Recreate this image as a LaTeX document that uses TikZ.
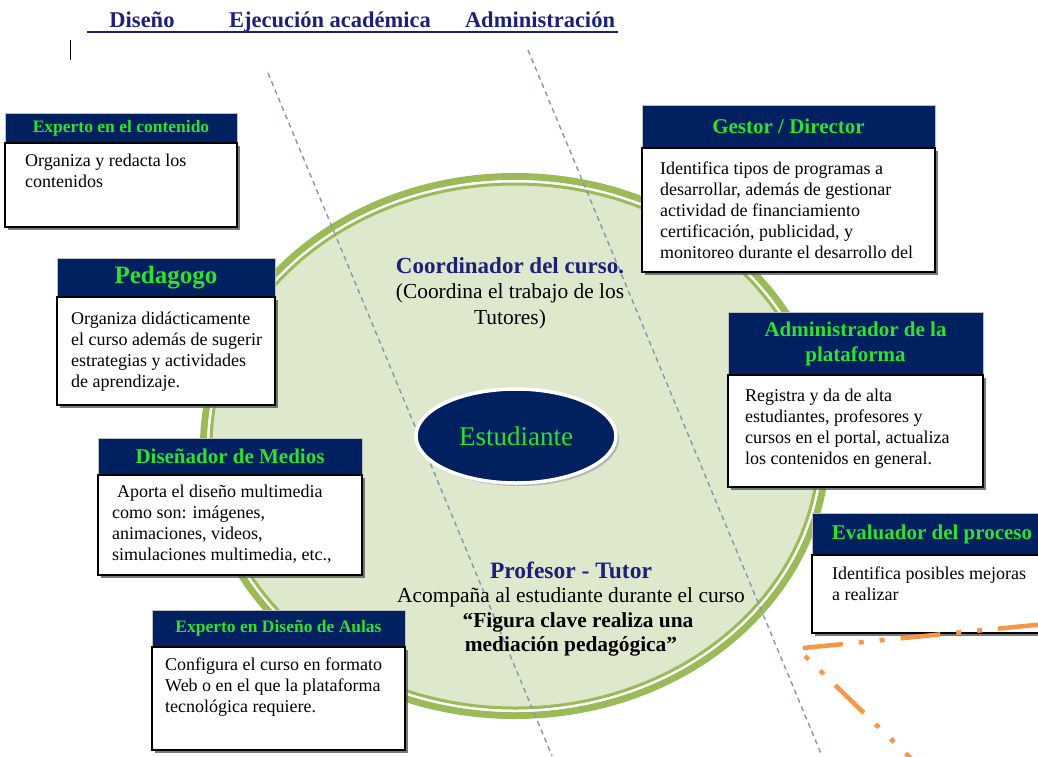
\documentclass[tikz,border=0pt]{standalone}
\usepackage{fontspec}
\setmainfont{Liberation Serif}
\usetikzlibrary{shapes.geometric}
\usetikzlibrary{shadows}
\usetikzlibrary{positioning}

\definecolor{boxnavy}{RGB}{0,32,96}
\definecolor{titlegreen}{RGB}{45,225,45}
\definecolor{headnavy}{RGB}{28,32,120}
\definecolor{discfill}{RGB}{222,232,204}
\definecolor{ringgreen}{RGB}{155,187,89}
\definecolor{splitgray}{RGB}{132,151,176}
\definecolor{evalorange}{RGB}{247,150,70}

\begin{document}
\begin{tikzpicture}[x=1pt,y=-1pt,
  hdr/.style={draw=gray!50, fill=boxnavy, text=titlegreen, font=\bfseries\fontsize{21}{25}\selectfont,
    anchor=north west, inner sep=2pt, outer sep=0pt, align=center},
  bodyframe/.style={draw=black, line width=1.1pt, fill=white, anchor=north west, inner sep=0pt, outer sep=0pt,
    drop shadow={shadow xshift=3pt, shadow yshift=-3pt, fill=black!65, opacity=0.8}},
  bodytext/.style={anchor=north west, inner sep=0pt, align=left, font=\fontsize{18}{21}\selectfont},
  column/.style={anchor=base, text=headnavy, font=\bfseries\fontsize{22.5}{26}\selectfont},
  split/.style={splitgray, line width=1.4pt, dash pattern=on 5pt off 4pt},
  wedge/.style={evalorange, line width=4.5pt, dash pattern=on 40pt off 16pt on 5pt off 16pt on 5pt off 16pt}]

\useasboundingbox (0,0) rectangle (1038,756);
\clip (0,0) rectangle (1038,756);

% column titles
\node[column] (dis) at (142,27) {Diseño};
\node[column] (eje) at (330,27) {Ejecución académica};
\node[column] (adm) at (540,27) {Administración};
\draw[headnavy, line width=1.8pt] (87,32) -- (618,32);
\draw[line width=1pt] (70,40) -- (70,60);

% big disc with double ring
\fill[discfill] (515,446) ellipse [x radius=312pt, y radius=270pt];
\draw[ringgreen, line width=7pt] (515,446) ellipse [x radius=311.5pt, y radius=269.5pt];
\draw[white, line width=2.5pt] (515,446) ellipse [x radius=306.75pt, y radius=264.75pt];
\draw[ringgreen, line width=3pt] (515,446) ellipse [x radius=304pt, y radius=262pt];

% dashed separators
\draw[split] (268,73) -- (552,756);
\draw[split] (528,50) -- (822,756);

% centre
\node[ellipse, fill=boxnavy, draw=white, line width=3.5pt, minimum width=200, minimum height=94,
  text=titlegreen, font=\fontsize{27}{30}\selectfont,
  drop shadow={shadow xshift=3pt, shadow yshift=-3pt, fill=black!40, opacity=0.6}] (est) at (516,436) {Estudiante};

\node[align=center, font=\fontsize{21.4}{25.5}\selectfont] (coord) at (510,293)
  {\textcolor{headnavy}{\bfseries\fontsize{23}{25.5}\selectfont Coordinador del curso.}\\(Coordina el trabajo de los\\Tutores)};
\node[align=center, font=\fontsize{21.4}{24.3}\selectfont] (tutor) at (571,609)
  {\textcolor{headnavy}{\bfseries\fontsize{23.5}{24.3}\selectfont Profesor - Tutor}\\Acompaña al estudiante durante el curso\\
   \hspace{14pt}\textbf{“Figura clave realiza una}\\\textbf{mediación pedagógica”}};

% Diseño boxes
\node[hdr, minimum width=232, minimum height=30, font=\bfseries\fontsize{17.5}{20}\selectfont] (exph) at (5,113) {Experto en el contenido};
\node[bodyframe, minimum width=232, minimum height=84] (expb) at (exph.south west) {};
\node[bodytext] (expt) at (25,154) {Organiza y redacta los\\contenidos};

\node[hdr, minimum width=218, minimum height=39, font=\bfseries\fontsize{25}{28}\selectfont] (pedh) at (57,258) {Pedagogo};
\node[bodyframe, minimum width=218, minimum height=108] (pedb) at (pedh.south west) {};
\node[bodytext] (pedt) at (71,312) {Organiza didácticamente\\el curso además de sugerir\\estrategias y actividades\\de aprendizaje.};

\node[hdr, minimum width=264, minimum height=37] (dish) at (98,438) {Diseñador de Medios};
\node[bodyframe, minimum width=264, minimum height=100] (disb) at (dish.south west) {};
\node[bodytext] (dist) at (112,485) {\hspace{5pt}Aporta el diseño multimedia\\como son: imágenes,\\animaciones, videos,\\simulaciones multimedia, etc.,};

\node[hdr, minimum width=253, minimum height=37, font=\bfseries\fontsize{17.5}{20}\selectfont] (aulh) at (152,610) {Experto en Diseño de Aulas};
\node[bodyframe, minimum width=253, minimum height=103] (aulb) at (aulh.south west) {};
\node[bodytext] (ault) at (165,658) {Configura el curso en formato\\Web o en el que la plataforma\\tecnológica requiere.};

% Administración boxes
\node[hdr, minimum width=293, minimum height=43] (gesh) at (642,105) {Gestor / Director};
\node[bodyframe, minimum width=293, minimum height=124] (gesb) at (gesh.south west) {};
\node[bodytext] (gest) at (660,162) {Identifica tipos de programas a\\desarrollar, además de gestionar\\actividad de financiamiento\\certificación, publicidad, y\\monitoreo durante el desarrollo  del};

\node[hdr, minimum width=255, minimum height=63] (admh) at (728,312) {Administrador de la\\plataforma};
\node[bodyframe, minimum width=255, minimum height=112] (admb) at (admh.south west) {};
\node[bodytext] (admt) at (745,389) {Registra y da de alta\\estudiantes, profesores y\\cursos en el portal, actualiza\\los contenidos en general.};

\node[hdr, minimum width=240, minimum height=42] (evah) at (812,513) {Evaluador del proceso};
\node[bodyframe, minimum width=240, minimum height=78] (evab) at (evah.south west) {};
\node[bodytext] (evat) at (832,567) {Identifica posibles mejoras\\a realizar};

% orange wedge
\draw[wedge] (803,648) -- (1045,624);
\draw[wedge, dash phase=56pt] (805,656) -- (925,772);
\end{tikzpicture}
\end{document}
